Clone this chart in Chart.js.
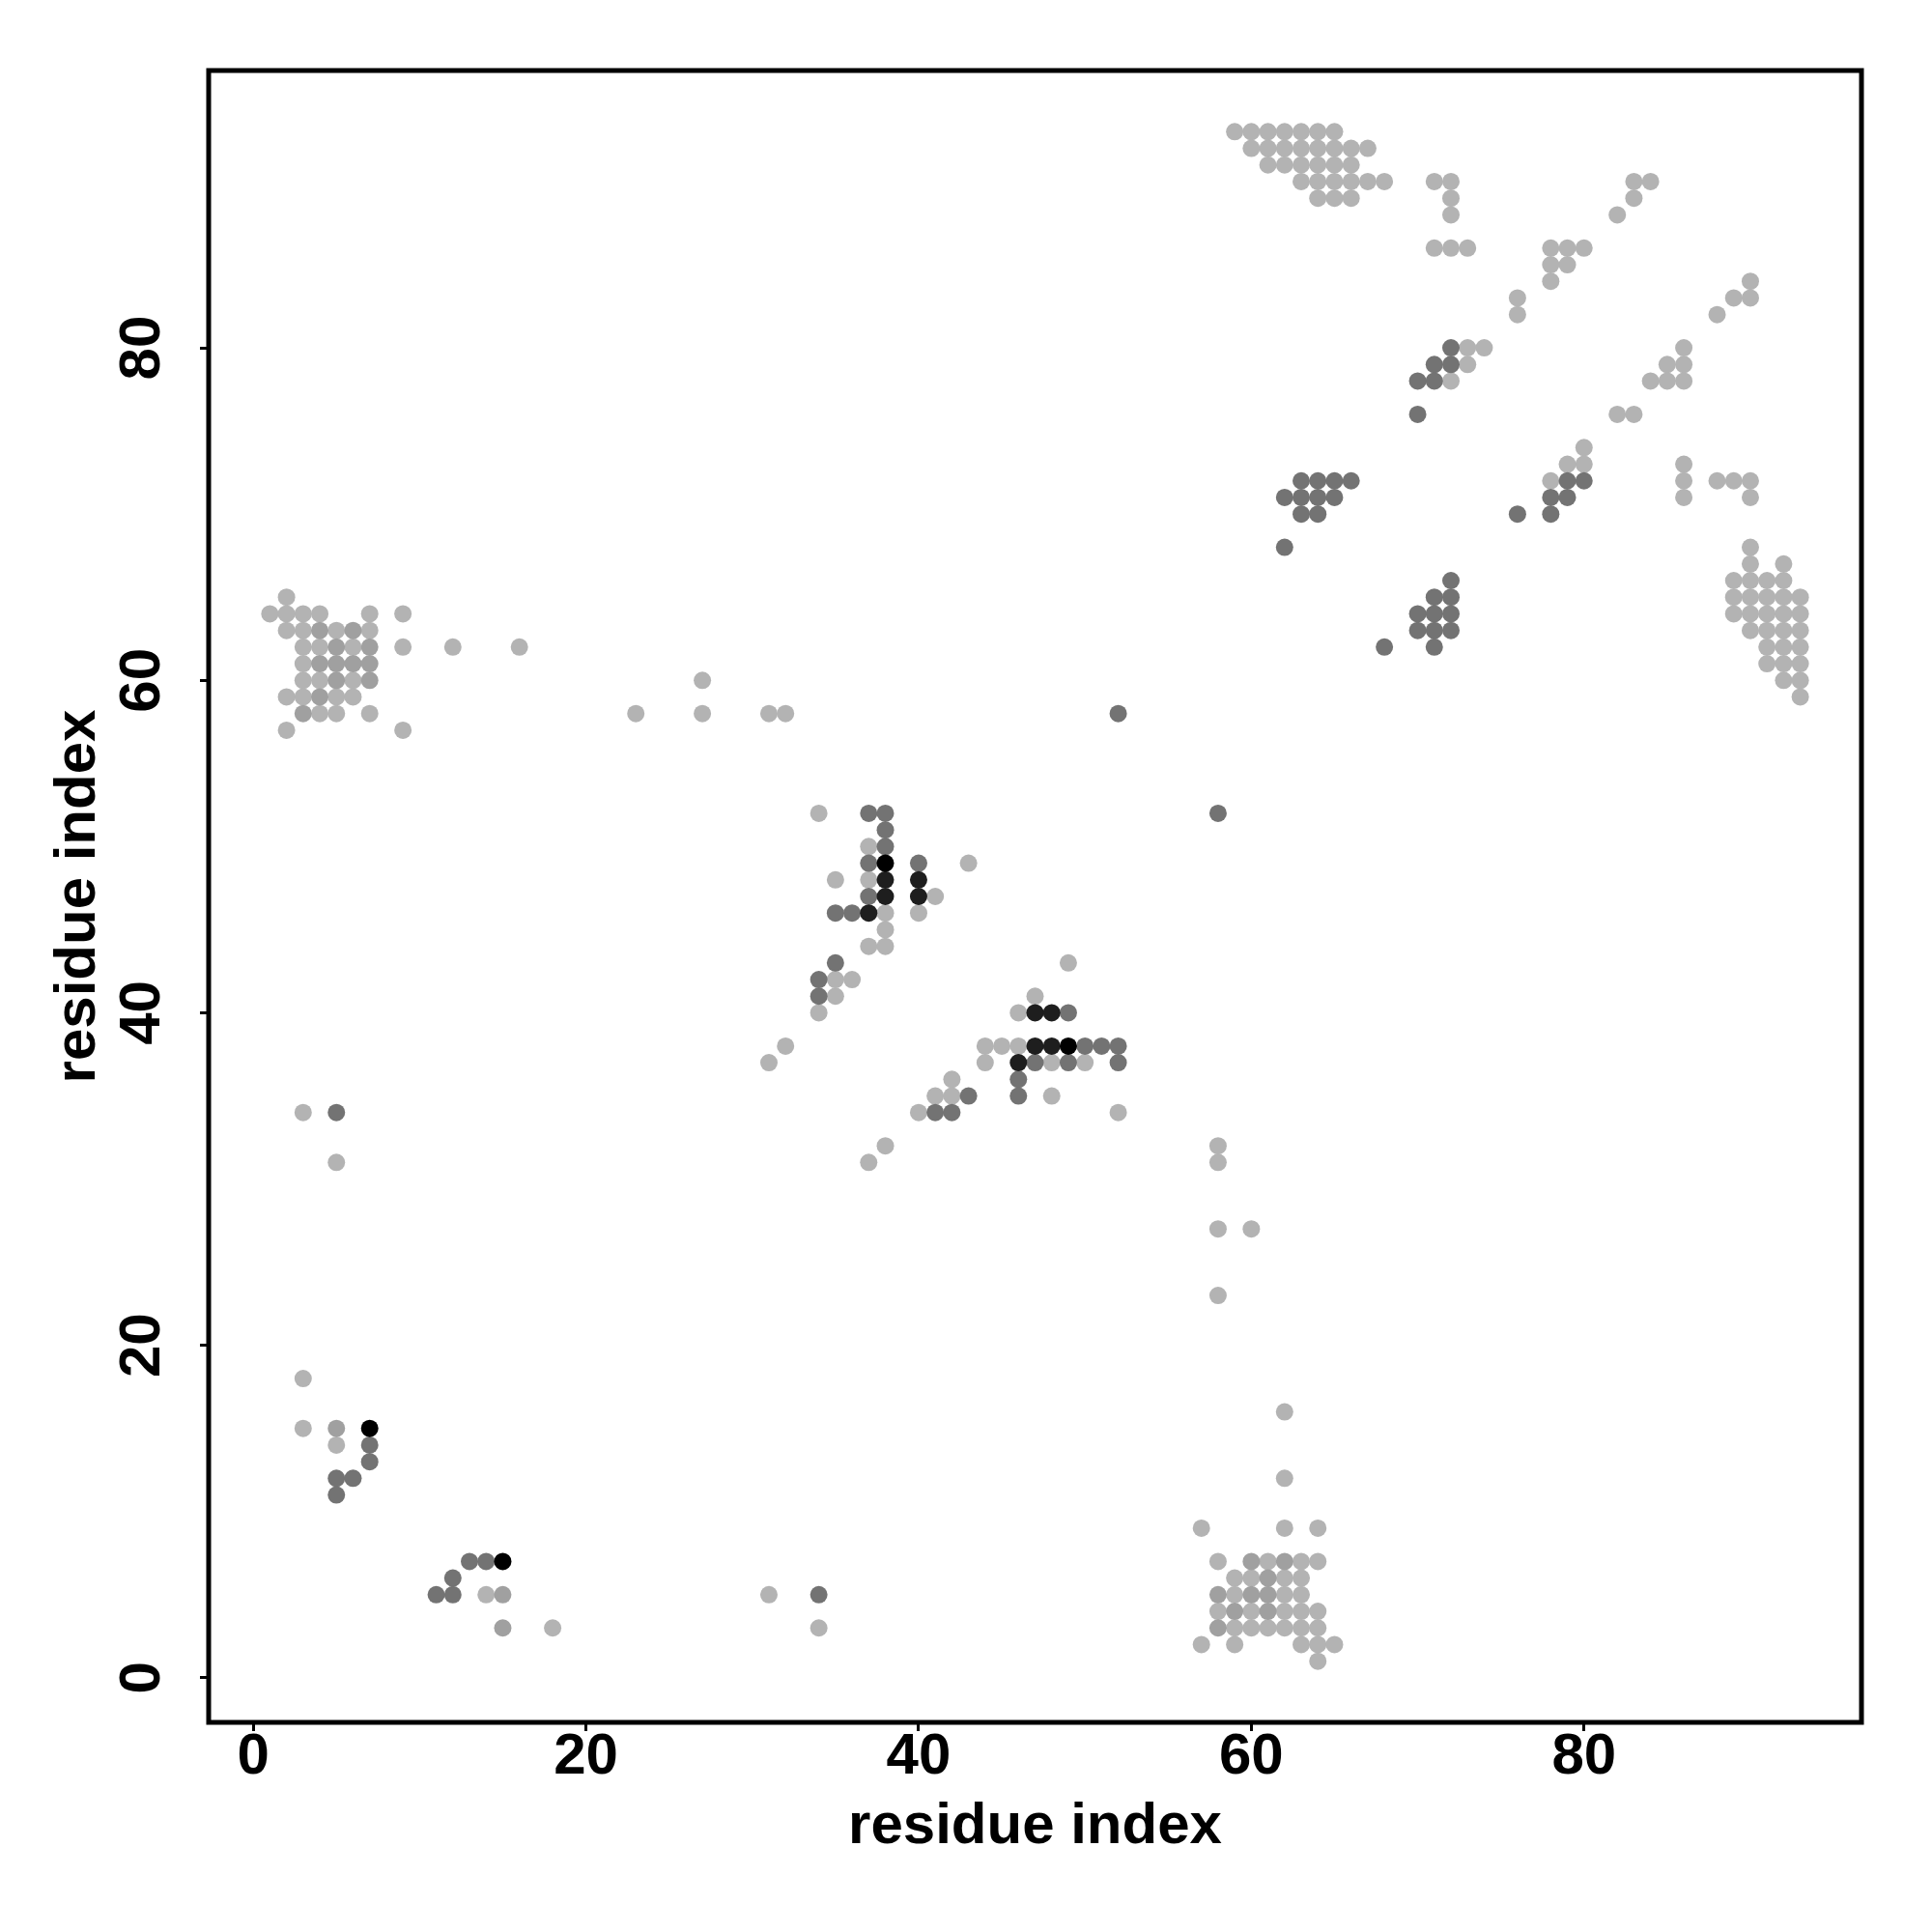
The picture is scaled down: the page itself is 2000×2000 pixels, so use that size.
<!DOCTYPE html>
<html>
<head>
<meta charset="utf-8">
<script src="https://cdn.jsdelivr.net/npm/chart.js@4/dist/chart.umd.min.js"></script>
<style>
  html, body { margin: 0; padding: 0; background: #fff; }
  #wrap { width: 2000px; height: 2000px; }
</style>
</head>
<body>
<div id="wrap"><canvas id="contactMap" width="2000" height="2000"></canvas></div>
<script>
// residue contact pairs [x, y], grouped by shade
const blackPts = [[38,49],[49,38],[7,15],[15,7]];

const darkerPts = [[38,48],[40,48],[38,47],[40,47],[37,46],[47,40],[48,40],[47,38],[48,38],[46,37]];

const darkPts = [
  [37,52],[38,52],[38,51],[38,50],[37,49],[40,49],[37,47],[35,46],[36,46],[35,43],[34,42],[34,41],
  [49,40],[50,38],[51,38],[52,38],[47,37],[49,37],[52,37],[46,36],[43,35],[46,35],[41,34],[42,34],
  [5,34],[7,14],[7,13],[5,12],[6,12],[5,11],[13,7],[14,7],[12,6],[11,5],[12,5],[34,5],
  [52,58],[58,52],
  [72,80],[71,79],[72,79],[70,78],[71,78],[70,76],
  [63,72],[64,72],[65,72],[66,72],[62,71],[63,71],[64,71],[65,71],[63,70],[64,70],[62,68],
  [79,72],[80,72],[78,71],[79,71],[76,70],[78,70],
  [72,66],[71,65],[72,65],[70,64],[71,64],[72,64],[70,63],[71,63],[72,63],[68,62],[71,62]
];

const midPts = [
  [4,63],[6,63],[5,62],[7,62],[4,61],[5,61],[6,61],[7,61],[5,60],[7,60],[4,59],[3,58],
  [5,15],[15,5],[15,3],
  [60,7],[62,7],[61,6],[60,5],[61,5],[61,4],[58,3],[58,5],[59,4]
];

const lightPts = [
  // top left block
  [2,65],[1,64],[2,64],[3,64],[4,64],[7,64],[9,64],[2,63],[3,63],[5,63],[7,63],
  [3,62],[4,62],[6,62],[9,62],[12,62],[16,62],[3,61],[3,60],[4,60],[6,60],
  [2,59],[3,59],[5,59],[6,59],[4,58],[5,58],[7,58],[2,57],[9,57],
  [27,60],[23,58],[27,58],[31,58],[32,58],
  // middle
  [34,52],[37,50],[43,49],[35,48],[37,48],[41,47],[38,46],[40,46],[38,45],[37,44],[38,44],
  [49,43],[35,42],[36,42],[35,41],[47,41],[34,40],[46,40],[32,38],[44,38],[45,38],[46,38],
  [31,37],[44,37],[48,37],[50,37],[42,36],[41,35],[42,35],[48,35],[40,34],[52,34],[38,32],[37,31],
  // bottom left
  [3,34],[5,31],[3,18],[3,15],[5,14],[14,5],[18,3],[31,5],[34,3],
  // bottom middle
  [58,32],[58,31],[58,27],[60,27],[58,23],[62,16],[62,12],[57,9],[62,9],[64,9],
  [58,7],[61,7],[63,7],[64,7],[59,6],[60,6],[62,6],[63,6],[59,5],[62,5],[63,5],
  [58,4],[60,4],[62,4],[63,4],[64,4],[59,3],[60,3],[61,3],[62,3],[63,3],[64,3],
  [57,2],[59,2],[63,2],[64,2],[65,2],[64,1],
  // top right
  [59,93],[60,93],[61,93],[62,93],[63,93],[64,93],[65,93],
  [60,92],[61,92],[62,92],[63,92],[64,92],[65,92],[66,92],[67,92],
  [61,91],[62,91],[63,91],[64,91],[65,91],[66,91],
  [63,90],[64,90],[65,90],[66,90],[67,90],[68,90],[71,90],[72,90],[83,90],[84,90],
  [64,89],[65,89],[66,89],[72,89],[83,89],[72,88],[82,88],
  [71,86],[72,86],[73,86],[78,86],[79,86],[80,86],[78,85],[79,85],[78,84],[90,84],
  [76,83],[89,83],[90,83],[76,82],[88,82],
  [73,80],[74,80],[86,80],[73,79],[85,79],[86,79],[72,78],[84,78],[85,78],[86,78],
  [82,76],[83,76],[80,74],[79,73],[80,73],[86,73],
  [78,72],[86,72],[88,72],[89,72],[90,72],[86,71],[90,71],
  [90,68],[90,67],[92,67],[89,66],[90,66],[91,66],[92,66],
  [89,65],[90,65],[91,65],[92,65],[93,65],[89,64],[90,64],[91,64],[92,64],[93,64],
  [90,63],[91,63],[92,63],[93,63],[91,62],[92,62],[93,62],[91,61],[92,61],[93,61],
  [92,60],[93,60],[93,59]
];

const xTicks = [0, 20, 40, 60, 80];
const yTicks = [0, 20, 40, 60, 80];
const axisMin = -2.68;
const axisMax = 96.68;

const toXY = pts => pts.map(p => ({ x: p[0], y: p[1] }));
const fontFamily = '"Liberation Sans", Arial, Helvetica, sans-serif';

const boxPlugin = {
    id: 'boxPlugin',
    afterDraw(chart) {
        const a = chart.chartArea;
        const ctx = chart.ctx;
        ctx.save();
        ctx.strokeStyle = '#000';
        ctx.lineWidth = 5;
        ctx.strokeRect(a.left, a.top, a.right - a.left, a.bottom - a.top);
        ctx.restore();
    }
};

const mk = (pts, color) => ({
    data: toXY(pts),
    backgroundColor: color,
    borderWidth: 0,
    pointRadius: 9,
    pointHoverRadius: 9
});

const ctx = document.getElementById('contactMap').getContext('2d');
const chart = new Chart(ctx, {
    type: 'scatter',
    data: {
        datasets: [
            mk(blackPts, '#000000'),
            mk(darkerPts, '#1e1e1e'),
            mk(darkPts, '#737373'),
            mk(midPts, '#a0a0a0'),
            mk(lightPts, '#b3b3b3')
        ]
    },
    options: {
        responsive: false,
        animation: false,
        layout: { padding: { top: 73, right: 73, left: 0, bottom: 0 } },
        plugins: {
            legend: { display: false },
            tooltip: { enabled: false }
        },
        scales: {
            x: {
                type: 'linear',
                min: axisMin,
                max: axisMax,
                afterBuildTicks: scale => { scale.ticks = xTicks.map(v => ({ value: v })); },
                afterFit: scale => { scale.height = 217; },
                grid: { drawOnChartArea: false, drawTicks: true, tickLength: 9, tickWidth: 3, tickColor: '#000' },
                border: { display: false },
                ticks: {
                    color: '#000',
                    padding: -3,
                    maxRotation: 0,
                    font: { family: fontFamily, size: 60, weight: 'bold', lineHeight: 1 }
                },
                title: {
                    display: true,
                    text: 'residue index',
                    color: '#000',
                    padding: { top: 0, bottom: 73 },
                    font: { family: fontFamily, size: 60, weight: 'bold', lineHeight: 1.2 }
                }
            },
            y: {
                type: 'linear',
                min: axisMin,
                max: axisMax,
                afterBuildTicks: scale => { scale.ticks = yTicks.map(v => ({ value: v })); },
                afterFit: scale => { scale.width = 216; },
                grid: { drawOnChartArea: false, drawTicks: true, tickLength: 9, tickWidth: 3, tickColor: '#000' },
                border: { display: false },
                ticks: {
                    color: '#000',
                    padding: 25,
                    minRotation: 90,
                    maxRotation: 90,
                    crossAlign: 'center',
                    font: { family: fontFamily, size: 60, weight: 'bold', lineHeight: 1 }
                },
                title: {
                    display: true,
                    text: 'residue index',
                    color: '#000',
                    padding: { top: 45, bottom: 0 },
                    font: { family: fontFamily, size: 60, weight: 'bold', lineHeight: 1.2 }
                }
            }
        }
    },
    plugins: [boxPlugin]
});
</script>
</body>
</html>
